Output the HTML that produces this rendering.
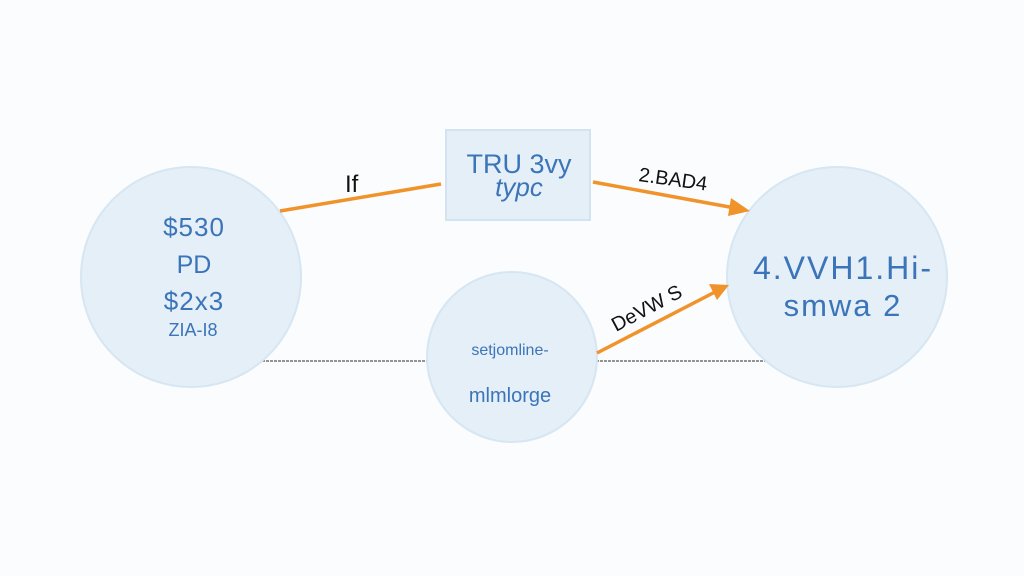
<!DOCTYPE html>
<html><head><style>
body{margin:0;background:#fbfcfd;}
</style></head><body>
<svg width="1024" height="576" xmlns="http://www.w3.org/2000/svg" style="display:block;font-family:'Liberation Sans',sans-serif">
<rect width="1024" height="576" fill="#fbfcfd"/>
<line x1="262" y1="361" x2="430" y2="361" stroke="#555" stroke-width="1.2" stroke-dasharray="3,1"/>
<line x1="596" y1="361" x2="767" y2="361" stroke="#555" stroke-width="1.2" stroke-dasharray="3,1"/>
<circle cx="191" cy="277" r="110" fill="#e4eff8" stroke="#d6e6f2" stroke-width="2"/>
<circle cx="512" cy="357" r="85" fill="#e4eff8" stroke="#d6e6f2" stroke-width="2"/>
<circle cx="837" cy="277" r="110" fill="#e4eff8" stroke="#d6e6f2" stroke-width="2"/>
<rect x="446" y="130" width="144" height="90" fill="#e4eff8" stroke="#d3e3ef" stroke-width="2"/>
<g stroke="#f0932b" stroke-width="3.5" fill="#f0932b">
<line x1="280" y1="211" x2="441" y2="184"/>
<line x1="593" y1="182" x2="735" y2="208"/>
<polygon points="750,211 731,198 728,216" stroke="none"/>
<line x1="597" y1="353" x2="715" y2="292"/>
<polygon points="729,285 709,284 717,300" stroke="none"/>
</g>
<g fill="#3b74b8" text-anchor="middle">
<text x="194" y="236" font-size="26" letter-spacing="1">$530</text>
<text x="194" y="273" font-size="25">PD</text>
<text x="194" y="310" font-size="26" letter-spacing="1">$2x3</text>
<text x="193" y="336" font-size="18">ZIA-I8</text>
<text x="519" y="173" font-size="27">TRU 3vy</text>
<text x="519" y="196" font-size="26" font-style="italic">typc</text>
<text x="510" y="355" font-size="16">setjomline-</text>
<text x="510" y="402" font-size="20">mlmlorge</text>
<text x="843" y="279" font-size="32" letter-spacing="2">4.VVH1.Hi-</text>
<text x="843" y="316" font-size="31" letter-spacing="2">smwa 2</text>
</g>
<g fill="#111" font-size="24">
<text x="345" y="192">If</text>
<text x="638" y="181" font-size="20" transform="rotate(8 638 181)">2.BAD4</text>
<text x="616" y="332" font-size="20" transform="rotate(-28 616 332)">DeVW S</text>
</g>
</svg>
</body></html>
